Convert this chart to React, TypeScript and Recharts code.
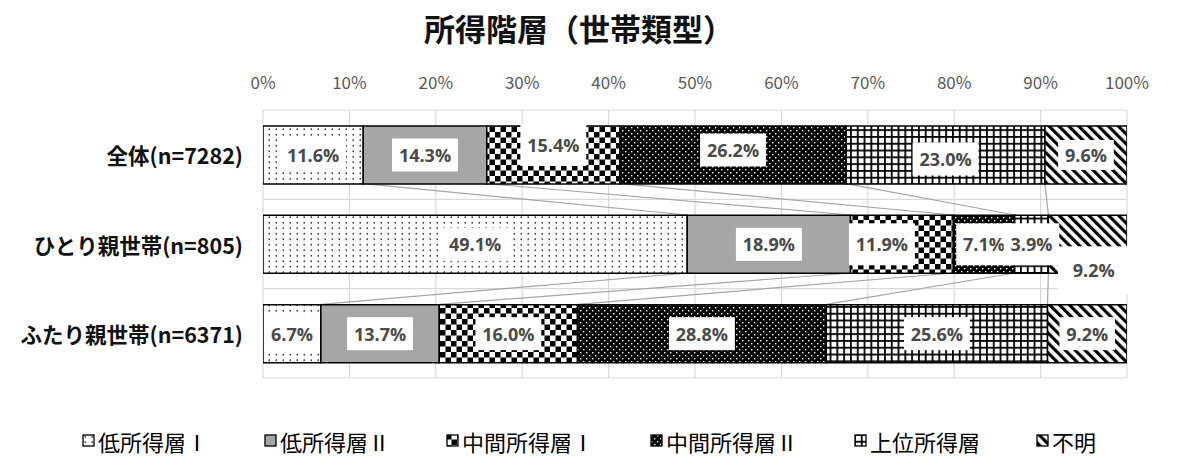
import React from 'react';
import * as RAll from 'recharts';
import { BarChart, Bar, XAxis, YAxis, CartesianGrid, LabelList, Customized } from 'recharts';

// ---------- data ----------
const categories = ['全体(n=7282)', 'ひとり親世帯(n=805)', 'ふたり親世帯(n=6371)'];
const seriesNames = ['低所得層Ⅰ', '低所得層Ⅱ', '中間所得層Ⅰ', '中間所得層Ⅱ', '上位所得層', '不明'];
const lowIncome1 = [11.6, 49.1, 6.7];
const lowIncome2 = [14.3, 18.9, 13.7];
const middle1 = [15.4, 11.9, 16.0];
const middle2 = [26.2, 7.1, 28.8];
const upper = [23.0, 3.9, 25.6];
const unknown = [9.6, 9.2, 9.2];
const xTicks = [0, 10, 20, 30, 40, 50, 60, 70, 80, 90, 100];

const seriesValues = [lowIncome1, lowIncome2, middle1, middle2, upper, unknown];
const data = categories.map((name, i) => {
  const row: any = { name };
  seriesValues.forEach((arr, k) => {
    row['s' + k] = arr[i];
  });
  return row;
});

// ---------- layout / style ----------
const W = 1178;
const H = 463;
const MARGIN = { top: 58, right: 51, bottom: 85, left: 8 };
const YAXIS_W = 255;
const XAXIS_H = 52;
const BAR_SIZE = 58;
const JP = '"Noto Sans CJK JP", "Noto Sans", sans-serif';
const NUMFONT = '"Open Sans", "Noto Sans", sans-serif';
const LABEL_COLOR = '#4a4a4a';

// manual label adjustments (as in the reference picture)
const labelNudge: Record<string, { dx?: number; dy?: number; h?: number; w?: number }> = {
  '2-0': { dy: -10, h: 42 },
  '3-0': { dy: -5 },
  '4-0': { dy: 4 },
  '5-0': { h: 30 },
  '2-1': { dx: -20, h: 42 },
  '3-1': { h: 42 },
  '4-1': { h: 42 },
  '5-1': { dx: 6, dy: 26, h: 48, w: 16 },
  '0-2': { h: 37 },
};

const usePA = (RAll as any).usePlotArea;
const useOff = (RAll as any).useOffset;
function usePlotRect() {
  const pa = usePA ? usePA() : undefined;
  const off = useOff ? useOff() : undefined;
  if (pa && typeof pa.x === 'number' && pa.width > 0) return pa;
  if (off && typeof off.top === 'number') {
    return {
      x: off.left,
      y: off.top,
      width: off.width ?? W - off.left - off.right,
      height: off.height ?? H - off.top - off.bottom,
    };
  }
  return {
    x: MARGIN.left + YAXIS_W,
    y: MARGIN.top + XAXIS_H,
    width: W - MARGIN.left - YAXIS_W - MARGIN.right,
    height: H - MARGIN.top - XAXIS_H - MARGIN.bottom,
  };
}

function Connectors() {
  const plot = usePlotRect();
  const band = plot.height / categories.length;
  const sx = (v: number) => plot.x + (v / 100) * plot.width;
  const lines: any[] = [];
  for (let r = 0; r < categories.length - 1; r++) {
    const yBottom = plot.y + r * band + band / 2 + BAR_SIZE / 2;
    const yTop = plot.y + (r + 1) * band + band / 2 - BAR_SIZE / 2;
    let cumA = 0;
    let cumB = 0;
    for (let k = 0; k < seriesValues.length - 1; k++) {
      cumA += seriesValues[k][r];
      cumB += seriesValues[k][r + 1];
      lines.push(
        <line
          key={`c-${r}-${k}`}
          x1={sx(cumA)}
          y1={yBottom}
          x2={sx(cumB)}
          y2={yTop}
          stroke="#a6a6a6"
          strokeWidth={1.2}
        />
      );
    }
  }
  return <g>{lines}</g>;
}

function textWidth(s: string) {
  let w = 0;
  for (const ch of s) {
    if (ch === '.') w += 5;
    else if (ch === '%') w += 16;
    else w += 10.3;
  }
  return w;
}

const makeLabel = (k: number) => (props: any) => {
  const vb = props.viewBox || {};
  const x = props.x ?? vb.x;
  const y = props.y ?? vb.y;
  const width = props.width ?? vb.width;
  const height = props.height ?? vb.height;
  const index = props.index;
  const value = props.value;
  if (value == null || x == null) return null;
  const txt = Number(value).toFixed(1) + '%';
  const n = labelNudge[`${k}-${index}`] || {};
  const cx = x + width / 2 + (n.dx || 0);
  const cy = y + height / 2 + (n.dy || 0);
  const tw = textWidth(txt);
  const bw = tw + 14 + (n.w || 0);
  const bh = n.h || 33;
  return (
    <g>
      <rect x={cx - bw / 2} y={cy - bh / 2} width={bw} height={bh} fill="#ffffff" />
      <text
        x={cx}
        y={cy}
        textAnchor="middle"
        dominantBaseline="central"
        fontFamily={NUMFONT}
        fontWeight={700}
        fontSize={18}
        fill={LABEL_COLOR}
      >
        {txt}
      </text>
    </g>
  );
};

const XTick = (props: any) => {
  const { x, y, payload } = props;
  return (
    <text x={x} y={y} textAnchor="middle" fontFamily={JP} fontSize={17} fill="#595959">
      {payload.value}%
    </text>
  );
};

const YTick = (props: any) => {
  const { x, y, payload } = props;
  return (
    <text
      x={x}
      y={y}
      textAnchor="end"
      dominantBaseline="central"
      fontFamily={JP}
      fontWeight={700}
      fontSize={21.5}
      fill="#111"
    >
      {payload.value}
    </text>
  );
};

function Patterns() {
  return (
    <svg width={0} height={0} style={{ position: 'absolute' }}>
      <defs>
        <pattern id="p0" width={7} height={5.5} patternUnits="userSpaceOnUse">
          <rect width={7} height={5.5} fill="#fff" />
          <rect x={2.5} y={2} width={1.5} height={1.5} fill="#222" />
        </pattern>
        <pattern id="p1" width={10} height={10} patternUnits="userSpaceOnUse">
          <rect width={10} height={10} fill="#a6a6a6" />
        </pattern>
        <pattern id="p2" width={11} height={11} patternUnits="userSpaceOnUse">
          <rect width={11} height={11} fill="#fff" />
          <rect x={0} y={0} width={5.5} height={5.5} fill="#000" />
          <rect x={5.5} y={5.5} width={5.5} height={5.5} fill="#000" />
        </pattern>
        <pattern id="p3" width={6} height={6} patternUnits="userSpaceOnUse">
          <rect width={6} height={6} fill="#000" />
          <rect x={1} y={1} width={1.4} height={1.4} fill="#fff" />
          <rect x={4} y={4} width={1.4} height={1.4} fill="#fff" />
        </pattern>
        <pattern id="p4" width={6.8} height={6.8} patternUnits="userSpaceOnUse">
          <rect width={6.8} height={6.8} fill="#fff" />
          <rect x={0} y={0} width={6.8} height={1.8} fill="#000" />
          <rect x={0} y={0} width={1.8} height={6.8} fill="#000" />
        </pattern>
        <pattern id="p5" width={7} height={7} patternUnits="userSpaceOnUse" patternTransform="rotate(-45)">
          <rect width={7} height={7} fill="#fff" />
          <rect x={0} y={0} width={3.2} height={7} fill="#000" />
        </pattern>
      </defs>
    </svg>
  );
}

function LegendRow() {
  return (
    <div
      style={{
        position: 'absolute',
        left: 0,
        top: 425,
        width: W,
        display: 'flex',
        justifyContent: 'center',
        gap: 56,
        alignItems: 'center',
        fontFamily: JP,
        fontSize: 22,
        color: '#000',
        lineHeight: '32px',
      }}
    >
      {seriesNames.map((nm, k) => (
        <div key={nm} style={{ display: 'flex', alignItems: 'center' }}>
          <svg width={14} height={14} style={{ marginRight: 2 }}>
            <rect x={1} y={1} width={11} height={11} fill={`url(#p${k})`} stroke="#000" strokeWidth={1.3} />
          </svg>
          <span>{nm}</span>
        </div>
      ))}
    </div>
  );
}

export default function App() {
  return (
    <div style={{ position: 'absolute', left: 0, top: 0, width: W, height: H, background: '#fff' }}>
      <Patterns />
      <div
        style={{
          position: 'absolute',
          left: 0,
          top: 6,
          width: 1158,
          textAlign: 'center',
          fontFamily: JP,
          fontWeight: 700,
          fontSize: 31,
          lineHeight: '44px',
          color: '#111',
        }}
      >
        所得階層（世帯類型）
      </div>
      <BarChart width={W} height={H} data={data} layout="vertical" margin={MARGIN} barSize={BAR_SIZE}>
        <CartesianGrid
          stroke="#d9d9d9"
          strokeWidth={1.2}
          horizontalCoordinatesGenerator={(p: any) => {
            const off = p.offset || {};
            const top = off.top ?? MARGIN.top + XAXIS_H;
            const h = off.height ?? H - MARGIN.top - XAXIS_H - MARGIN.bottom;
            return categories.map((_, i) => top + (i * h) / categories.length).concat([top + h]);
          }}
        />
        <XAxis
          type="number"
          orientation="top"
          domain={[0, 100]}
          ticks={xTicks}
          allowDataOverflow
          axisLine={false}
          tickLine={false}
          tickSize={0}
          tickMargin={21}
          height={XAXIS_H}
          tick={<XTick />}
          interval={0}
        />
        <YAxis
          type="category"
          dataKey="name"
          axisLine={false}
          tickLine={false}
          tickSize={0}
          tickMargin={20}
          width={YAXIS_W}
          tick={<YTick />}
          interval={0}
        />
        <Customized component={<Connectors />} />
        {seriesNames.map((nm, k) => (
          <Bar
            key={nm}
            dataKey={'s' + k}
            name={nm}
            stackId="a"
            fill={`url(#p${k})`}
            stroke="#000"
            strokeWidth={1.5}
            isAnimationActive={false}
          >
            <LabelList dataKey={'s' + k} content={makeLabel(k)} />
          </Bar>
        ))}
      </BarChart>
      <LegendRow />
    </div>
  );
}
